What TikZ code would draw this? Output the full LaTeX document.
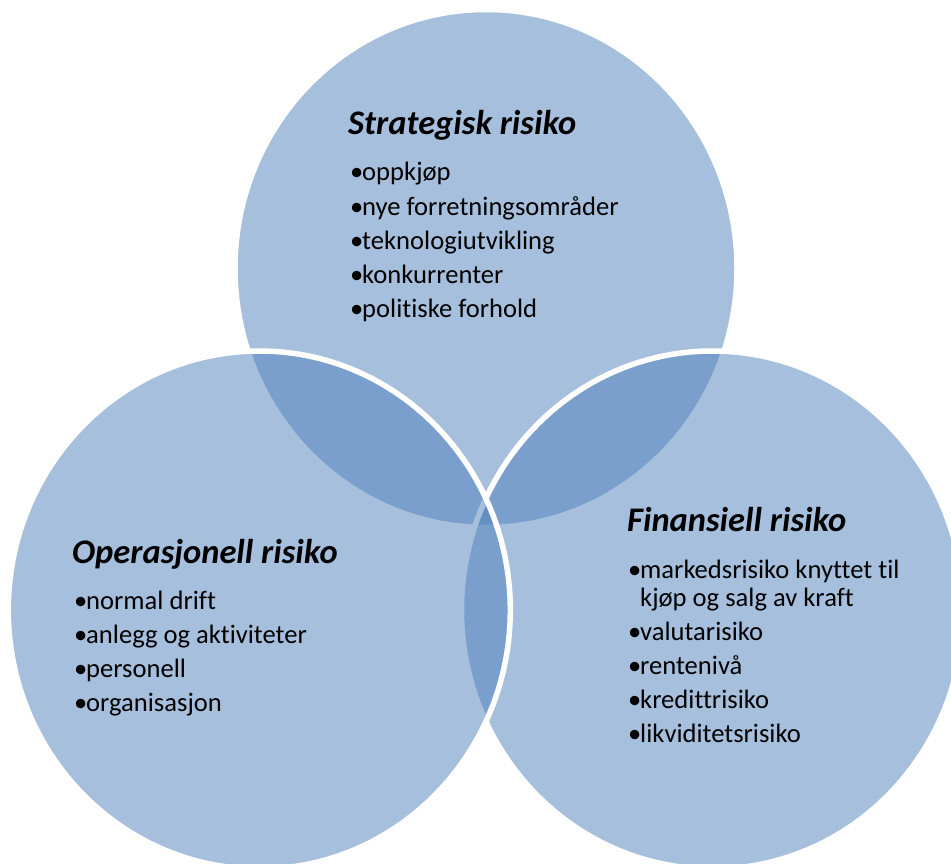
\documentclass[tikz,border=0pt]{standalone}
\usepackage{fontspec}
\setmainfont{Carlito}[Ligatures={NoCommon,NoContextual}]
\newcommand\vbul[1]{\makebox[12pt][l]{•}#1}
\definecolor{vennblue}{HTML}{4F81BD}
\tikzset{
  venn/.style={fill=vennblue, fill opacity=0.5, draw=white, line width=5.5pt},
  ttl/.style={anchor=base west, inner sep=0pt, font=\fontsize{34.5}{40}\selectfont\bfseries\itshape},
  itm/.style={anchor=base west, inner sep=0pt, font=\fontsize{26.6}{31}\selectfont}
}
\begin{document}
\begin{tikzpicture}[x=1pt,y=-1pt]
\useasboundingbox (0,0) rectangle (951,864);
\clip (0,0) rectangle (951,864);
\fill[white] (0,0) rectangle (951,864);
% circles: top, right, left
\path[venn] (486,268.5) ellipse [x radius=251pt, y radius=259pt];
\path[venn] (712.5,610) ellipse [x radius=251pt, y radius=259pt];
\path[venn] (259.3,610) ellipse [x radius=251pt, y radius=259pt];
% top
\node[ttl] (ts) at (348,135) {Strategisk risiko};
\node[itm] (ts1) at (350,181) {\vbul{oppkjøp}};
\node[itm] (ts2) at (350,215) {\vbul{nye forretningsområder}};
\node[itm] (ts3) at (350,249) {\vbul{teknologiutvikling}};
\node[itm] (ts4) at (350,283) {\vbul{konkurrenter}};
\node[itm] (ts5) at (350,317) {\vbul{politiske forhold}};
% left
\node[ttl] (to) at (72,563) {Operasjonell risiko};
\node[itm] (to1) at (74,609) {\vbul{normal drift}};
\node[itm] (to2) at (74,643) {\vbul{anlegg og aktiviteter}};
\node[itm] (to3) at (74,677) {\vbul{personell}};
\node[itm] (to4) at (74,711) {\vbul{organisasjon}};
% right
\node[ttl] (tf) at (627,531) {Finansiell risiko};
\node[itm] (tf1) at (628,578) {\vbul{markedsrisiko knyttet til}};
\node[itm] (tf1b) at (628,606) {\hspace{12pt}kjøp og salg av kraft};
\node[itm] (tf2) at (628,640) {\vbul{valutarisiko}};
\node[itm] (tf3) at (628,674) {\vbul{rentenivå}};
\node[itm] (tf4) at (628,708) {\vbul{kredittrisiko}};
\node[itm] (tf5) at (628,742) {\vbul{likviditetsrisiko}};
\end{tikzpicture}
\end{document}
